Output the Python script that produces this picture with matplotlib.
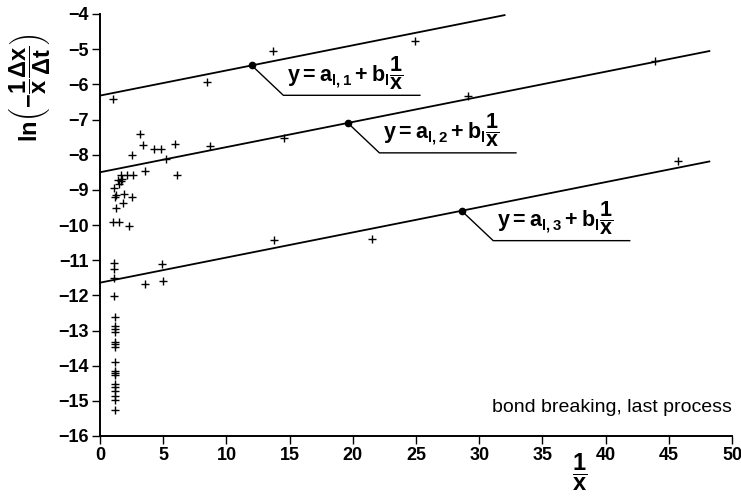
import matplotlib
matplotlib.use("Agg")
import matplotlib.pyplot as plt
import numpy as np

plt.rcParams['font.family'] = ['Liberation Sans', 'DejaVu Sans']
plt.rcParams['mathtext.fontset'] = 'custom'
plt.rcParams['mathtext.rm'] = 'Liberation Sans:bold'
plt.rcParams['mathtext.it'] = 'Liberation Sans:bold'
plt.rcParams['mathtext.bf'] = 'Liberation Sans:bold'
plt.rcParams['mathtext.sf'] = 'Liberation Sans:bold'

# measured points (1/x, ln(-1/x dx/dt))
pts_x = [1.0, 13.65, 8.45, 24.9, 29.1, 43.9, 45.7, 14.57, 13.8, 21.5, 8.66,
         3.2, 3.41, 4.25, 4.83, 5.96, 2.5, 5.2, 3.54, 6.09, 1.63, 2.15, 2.62,
         1.4, 1.65, 1.5, 1.75, 1.13, 1.26, 1.18, 1.91, 2.54, 1.83, 1.24,
         1.05, 1.52, 2.31,
         1.1, 1.1, 1.1, 4.94, 3.54, 4.98, 1.1, 1.18,
         1.18, 1.18, 1.18, 1.18, 1.18, 1.18, 1.18, 1.18, 1.18, 1.18,
         1.18, 1.18, 1.18, 1.18, 1.18, 1.18]
pts_y = [-6.42, -5.05, -5.93, -4.76, -6.33, -5.34, -8.18, -7.52, -10.43, -10.40, -7.74,
         -7.42, -7.73, -7.85, -7.85, -7.70, -8.02, -8.11, -8.46, -8.57, -8.59, -8.57, -8.57,
         -8.72, -8.76, -8.82, -8.70, -8.96, -9.15, -9.19, -9.13, -9.19, -9.38, -9.52,
         -9.91, -9.91, -10.02,
         -11.09, -11.26, -11.50, -11.12, -11.69, -11.60, -12.01, -12.63,
         -12.87, -12.95, -13.03, -13.33, -13.39, -13.46, -13.89, -14.14, -14.20, -14.26,
         -14.53, -14.60, -14.72, -14.86, -14.98, -15.26]

# fitted lines y = a + b/x
b_l = 0.0715
a_l = [-6.32, -8.50, -11.64]
line_end = [32.0, 48.2, 48.2]
dot_x = [12.0, 19.6, 28.6]
eq_labels = [r'$y = a_{l,1} + b_l\dfrac{1}{x}$',
             r'$y = a_{l,2} + b_l\dfrac{1}{x}$',
             r'$y = a_{l,3} + b_l\dfrac{1}{x}$']

fig = plt.figure(figsize=(7.41, 5.0), dpi=100)
ax = fig.add_axes([0.135, 0.128, 0.853, 0.844])

ax.plot(pts_x, pts_y, '+', color='black', ms=6, mew=1.0, clip_on=False)

for a, xe, xd, lab in zip(a_l, line_end, dot_x, eq_labels):
    xs = np.array([0, xe])
    ax.plot(xs, a + b_l * xs, color='black', lw=1.3, clip_on=False)
    yd = a + b_l * xd
    ax.plot([xd], [yd], 'o', color='black', ms=4.5)
    cx, cy = xd + 2.5, yd - 0.85
    ax.plot([xd, cx, cx + 10.8], [yd, cy, cy], color='black', lw=1.0)
    ax.text(cx + 0.3, cy + 0.1, lab, fontsize=15.5, ha='left', va='bottom')

ax.text(50, -15.2, 'bond breaking, last process', fontsize=14, ha='right', va='center')

ax.set_xlim(0, 50)
ax.set_ylim(-16, -4)
ax.set_xticks(np.arange(0, 51, 5))
ax.set_yticks(np.arange(-16, -3, 1))
for s in ['top', 'right']:
    ax.spines[s].set_visible(False)
for s in ['left', 'bottom']:
    ax.spines[s].set_linewidth(1.4)
ax.tick_params(direction='out', length=6, width=1.0, labelsize=13, pad=2)
for lab in ax.get_xticklabels() + ax.get_yticklabels():
    lab.set_fontweight('bold')

fig.text(580 / 741, 1 - 472 / 500, r'$\dfrac{1}{x}$', fontsize=17, ha='center', va='center')
fig.text(30 / 741, 1 - 88 / 500, r'$ln\left(-\dfrac{1}{x}\dfrac{\Delta x}{\Delta t}\right)$',
         fontsize=17, rotation=90, ha='center', va='center')

fig.savefig('out.png', dpi=100)
